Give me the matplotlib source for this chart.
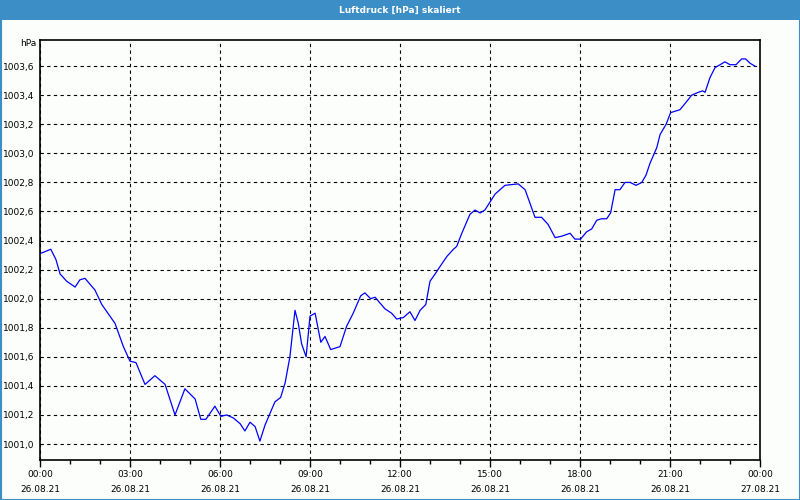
"""Luftdruck-Verlauf 26.08.21 als skaliertes Liniendiagramm."""

import matplotlib

matplotlib.use("Agg")
import matplotlib.pyplot as plt
from matplotlib.patches import Rectangle
from matplotlib.ticker import FixedLocator, MultipleLocator

# Stunden seit 26.08.21 00:00
HOURS = [
    0.0, 0.36, 0.53, 0.67, 0.89, 1.17, 1.33, 1.5, 1.83, 2.06, 2.5, 2.78,
    3.0, 3.2, 3.5, 3.83, 4.17, 4.5, 4.83, 5.17, 5.36, 5.53, 5.83, 6.03,
    6.22, 6.44, 6.67, 6.83, 7.0, 7.17, 7.33, 7.5, 7.83, 8.02, 8.17, 8.33,
    8.5, 8.61, 8.72, 8.87, 9.0, 9.17, 9.36, 9.5, 9.69, 10.0, 10.22, 10.44,
    10.69, 10.83, 11.02, 11.17, 11.5, 11.72, 11.89, 12.11, 12.33, 12.5,
    12.67, 12.86, 13.0, 13.17, 13.33, 13.56, 13.78, 13.89, 14.06, 14.33,
    14.5, 14.67, 14.83, 15.17, 15.5, 15.94, 16.17, 16.5, 16.72, 16.94,
    17.17, 17.39, 17.67, 17.83, 18.02, 18.22, 18.39, 18.56, 18.72, 18.89,
    19.02, 19.17, 19.33, 19.5, 19.67, 19.87, 20.06, 20.2, 20.33, 20.56,
    20.67, 20.87, 21.02, 21.17, 21.33, 21.53, 21.72, 21.94, 22.09, 22.17,
    22.33, 22.5, 22.67, 22.83, 23.0, 23.2, 23.39, 23.52, 23.67, 23.83,
]

PRESSURE = [
    1002.31, 1002.34, 1002.27, 1002.17, 1002.12, 1002.08, 1002.13, 1002.14,
    1002.06, 1001.96, 1001.83, 1001.67, 1001.57, 1001.56, 1001.41, 1001.47,
    1001.41, 1001.20, 1001.38, 1001.31, 1001.17, 1001.17, 1001.26, 1001.19,
    1001.20, 1001.18, 1001.14, 1001.09, 1001.15, 1001.12, 1001.02, 1001.13,
    1001.29, 1001.32, 1001.42, 1001.60, 1001.92, 1001.83, 1001.69, 1001.60,
    1001.88, 1001.90, 1001.70, 1001.74, 1001.65, 1001.67, 1001.81, 1001.90,
    1002.02, 1002.04, 1002.00, 1002.01, 1001.93, 1001.90, 1001.86, 1001.87,
    1001.91, 1001.85, 1001.92, 1001.96, 1002.12, 1002.17, 1002.22, 1002.29,
    1002.34, 1002.36, 1002.45, 1002.58, 1002.61, 1002.59, 1002.61, 1002.72,
    1002.78, 1002.79, 1002.75, 1002.56, 1002.56, 1002.51, 1002.42, 1002.43,
    1002.45, 1002.41, 1002.41, 1002.46, 1002.48, 1002.54, 1002.55, 1002.55,
    1002.59, 1002.75, 1002.75, 1002.80, 1002.80, 1002.78, 1002.80, 1002.85,
    1002.93, 1003.04, 1003.13, 1003.20, 1003.28, 1003.29, 1003.30, 1003.35,
    1003.40, 1003.42, 1003.43, 1003.42, 1003.52, 1003.59, 1003.61, 1003.63,
    1003.61, 1003.61, 1003.65, 1003.65, 1003.62, 1003.60,
]

X_TICKS = [0, 3, 6, 9, 12, 15, 18, 21, 24]
X_TICK_LABELS = [
    "00:00\n\n26.08.21", "03:00\n\n26.08.21", "06:00\n\n26.08.21",
    "09:00\n\n26.08.21", "12:00\n\n26.08.21", "15:00\n\n26.08.21",
    "18:00\n\n26.08.21", "21:00\n\n26.08.21", "00:00\n\n27.08.21",
]

TITLE = "Luftdruck [hPa] skaliert"
UNIT = "hPa"

BAR_BLUE = "#3c8fc6"
BG = "#fcfefc"

plt.rcParams["font.family"] = ["DejaVu Sans"]

fig = plt.figure(figsize=(8, 5), dpi=100, facecolor=BG)

# Titelleiste und Rahmen
fig.patches.append(Rectangle((0, 1 - 20 / 500), 1, 20 / 500, transform=fig.transFigure,
                             facecolor=BAR_BLUE, edgecolor="none", zorder=0))
fig.patches.append(Rectangle((0.5 / 800, 0.5 / 500), 1 - 1 / 800, 1 - 1 / 500,
                             transform=fig.transFigure, facecolor="none",
                             edgecolor=BAR_BLUE, linewidth=1.5, zorder=5))
fig.text(0.5, 1 - 10 / 500, TITLE, color="white", fontsize=6.5, fontweight="bold",
         ha="center", va="center")

ax = fig.add_axes([40 / 800, 40 / 500, 720 / 800, 420 / 500])
ax.set_facecolor(BG)
ax.plot(HOURS, PRESSURE, color="#0000ff", linewidth=0.9)

ax.set_xlim(0, 24)
ax.set_ylim(1000.89, 1003.78)

ax.xaxis.set_major_locator(FixedLocator(X_TICKS))
ax.set_xticklabels(X_TICK_LABELS, fontsize=6.5, linespacing=0.8)
ax.xaxis.set_minor_locator(MultipleLocator(1))
ax.tick_params(axis="x", which="major", length=5, width=1, direction="out", pad=2)
ax.tick_params(axis="x", which="minor", length=3, width=1, direction="out")

ax.yaxis.set_major_locator(MultipleLocator(0.2))
ax.yaxis.set_major_formatter(lambda v, pos: f"{v:.1f}".replace(".", ","))
ax.tick_params(axis="y", which="major", length=0, labelsize=6.5, pad=4)

ax.grid(True, which="major", color="black", linestyle=(0, (3, 3)), linewidth=0.8)
for spine in ax.spines.values():
    spine.set_color("black")
    spine.set_linewidth(1.2)

fig.text(28 / 800, 1 - 44 / 500, UNIT, fontsize=6.5, ha="center", va="center")

fig.savefig("out.png", dpi=100, facecolor=BG)
plt.close(fig)
